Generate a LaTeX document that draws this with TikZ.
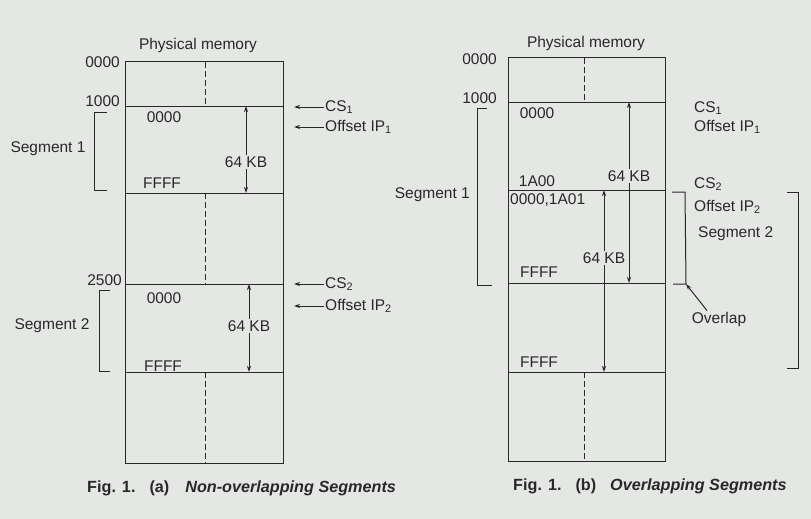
\documentclass[tikz,border=0pt]{standalone}
\usepackage{fontspec}
\setmainfont{Liberation Sans}
\usetikzlibrary{arrows.meta, positioning, calc}
\definecolor{paper}{RGB}{229,231,229}
\definecolor{ink}{RGB}{40,40,40}

\begin{document}
\begin{tikzpicture}[x=1pt, y=-1pt, font=\fontsize{15.5}{17}\selectfont,
    mem/.style={draw=ink, line width=1pt},
    divider/.style={draw=ink, line width=1pt, dash pattern=on 6pt off 3pt},
    brk/.style={draw=ink, line width=1pt},
    arr/.style={draw=ink, line width=1pt, -{Stealth[length=6pt, width=4pt]}},
    lbl/.style={text=ink, inner sep=1pt},
    figcap/.style={text=ink, inner sep=0pt, anchor=west, font=\fontsize{16.2}{18}\selectfont\bfseries}]
    % Paper
    \fill[paper] (0,0) rectangle (811,519);

    % ---------- (a) Non-overlapping ----------
    \coordinate (aTL) at (125,62);
    \coordinate (aBR) at (283,463);
    \draw[mem] (aTL) rectangle (aBR);
    % Segment boundaries
    \coordinate (aS1) at (125,106);
    \coordinate (aE1) at (125,193);
    \coordinate (aS2) at (125,284);
    \coordinate (aE2) at (125,372);
    \foreach \c in {aS1, aE1, aS2, aE2}
        \draw[mem] (\c) -- ++(158,0);
    % Gaps
    \draw[divider] (205,62) -- (205,106);
    \draw[divider] (205,193) -- (205,284);
    \draw[divider] (205,372) -- (205,463);
    \node[lbl] (aPhys) at (198,45) {Physical memory};
    % Addresses
    \node[lbl, anchor=east] (aA0) at (121,62) {0000};
    \node[lbl, anchor=east] (aA1) at (121,101) {1000};
    \node[lbl, anchor=east] (aA2) at (123,280) {2500};
    \node[lbl] (aO1) at (164,117) {0000};
    \node[lbl] (aF1) at (162,183) {FFFF};
    \node[lbl] (aO2) at (164,298) {0000};
    \node[lbl] (aF2) at (163,366) {FFFF};
    % Sizes
    \node[lbl, fill=paper] (aK1) at (246,162) {64 KB};
    \draw[arr] (aK1) -- (aK1 |- aS1);
    \draw[arr] (aK1) -- (aK1 |- aE1);
    \node[lbl, fill=paper] (aK2) at (249,326) {64 KB};
    \draw[arr] (aK2) -- (aK2 |- aS2);
    \draw[arr] (aK2) -- (aK2 |- aE2);
    % Registers
    \node[lbl, anchor=west] (aCS1) at (324,107) {CS\textsubscript{1}};
    \node[lbl, anchor=west] (aIP1) at (324,127) {Offset IP\textsubscript{1}};
    \node[lbl, anchor=west] (aCS2) at (324,284) {CS\textsubscript{2}};
    \node[lbl, anchor=west] (aIP2) at (324,306) {Offset IP\textsubscript{2}};
    \foreach \r in {aCS1, aIP1, aCS2, aIP2}
        \draw[arr] (\r.west) -- ++(-30,0);
    % Segment brackets
    \draw[brk] (107,112) -- (94,112) -- (94,190) -- (107,190);
    \node[lbl] (aSeg1) at (48,149) {Segment 1};
    \draw[brk] (110,290) -- (99,290) -- (99,371) -- (110,371);
    \node[lbl] (aSeg2) at (52,326) {Segment 2};
    % Caption
    \node[figcap] (aFig) at (87,488) {Fig. 1.\hspace{14pt}(a)\hspace{16pt}\itshape Non-overlapping Segments};

    % ---------- (b) Overlapping ----------
    \coordinate (bTL) at (508,58);
    \coordinate (bBR) at (665,461);
    \draw[mem] (bTL) rectangle (bBR);
    % Segment boundaries
    \coordinate (bS1) at (508,102);
    \coordinate (bS2) at (508,190);
    \coordinate (bE1) at (508,283);
    \coordinate (bE2) at (508,372);
    \foreach \c in {bS1, bS2, bE1, bE2}
        \draw[mem] (\c) -- ++(157,0);
    % Gaps
    \draw[divider] (584,58) -- (584,102);
    \draw[divider] (584,372) -- (584,461);
    \node[lbl] (bPhys) at (586,43) {Physical memory};
    % Addresses
    \node[lbl, anchor=east] (bA0) at (498,59) {0000};
    \node[lbl, anchor=east] (bA1) at (498,98) {1000};
    \node[lbl] (bO1) at (537,113) {0000};
    \node[lbl] (bX1) at (537,181) {1A00};
    \node[lbl, anchor=west] (bO2) at (509,200) {0000,1A01};
    \node[lbl] (bF1) at (539,272) {FFFF};
    \node[lbl] (bF2) at (539,362) {FFFF};
    % Sizes
    \node[lbl] (bK1) at (629,176) {64 KB};
    \draw[arr] (bK1) -- (bK1 |- bS1);
    \draw[arr] (bK1) -- (bK1 |- bE1);
    \node[lbl, fill=paper] (bK2) at (604,258) {64 KB};
    \draw[arr] (bK2) -- (bK2 |- bS2);
    \draw[arr] (bK2) -- (bK2 |- bE2);
    % Registers
    \node[lbl, anchor=west] (bCS1) at (693,108) {CS\textsubscript{1}};
    \node[lbl, anchor=west] (bIP1) at (693,127) {Offset IP\textsubscript{1}};
    \node[lbl, anchor=west] (bCS2) at (693,184) {CS\textsubscript{2}};
    \node[lbl, anchor=west] (bIP2) at (693,207) {Offset IP\textsubscript{2}};
    % Segment brackets
    \draw[brk] (487,108) -- (477,108) -- (477,285) -- (492,285);
    \node[lbl, anchor=east] (bSeg1) at (471,195) {Segment 1};
    \draw[brk] (787,192) -- (798,192) -- (798,368) -- (787,368);
    \node[lbl, anchor=west] (bSeg2) at (697,234) {Segment 2};
    % Overlap
    \coordinate (bOvT) at (685,192);
    \coordinate (bOvB) at (686,284);
    \draw[brk] (672,192) -- (bOvT) -- (bOvB) -- (673,284);
    \node[lbl] (bOver) at (719,319) {Overlap};
    \draw[arr] ($(bOver.north)+(-12,0)$) -- (bOvB);
    % Caption
    \node[figcap] (bFig) at (513,486) {Fig. 1.\hspace{14pt}(b)\hspace{14pt}\itshape Overlapping Segments};
\end{tikzpicture}
\end{document}
